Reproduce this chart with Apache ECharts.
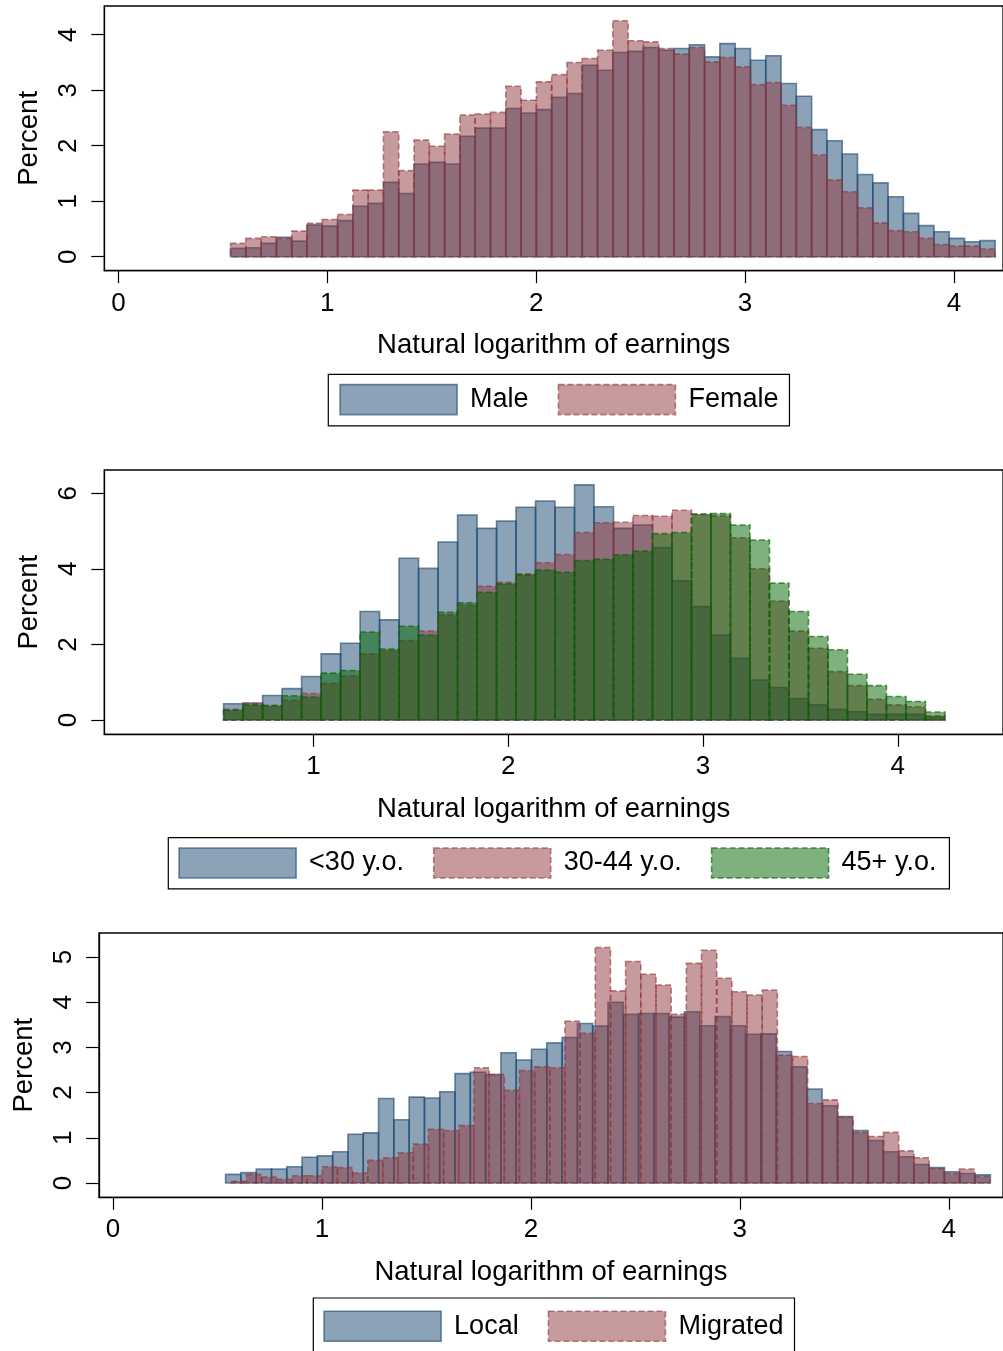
<!DOCTYPE html>
<html><head><meta charset="utf-8">
<script src="https://cdn.jsdelivr.net/npm/echarts@6/dist/echarts.min.js"></script>
<style>html,body{margin:0;padding:0;background:#fff}#c{width:1003px;height:1351px}</style>
</head><body><div id="c"></div><script>
const xTitle = 'Natural logarithm of earnings';
const yTitle = 'Percent';

// Panel 1: by gender (50 bins)
const p1Names = ['Male', 'Female'];
const p1BinStart = 0.537, p1BinWidth = 0.0732;
const male = [0.15,0.16,0.24,0.35,0.28,0.57,0.55,0.65,0.91,0.96,
  1.34,1.14,1.67,1.70,1.67,2.17,2.32,2.32,2.67,2.59,
  2.65,2.87,2.94,3.45,3.36,3.68,3.70,3.77,3.72,3.75,
  3.82,3.60,3.84,3.75,3.54,3.62,3.12,2.89,2.29,2.09,
  1.85,1.48,1.33,1.08,0.78,0.56,0.45,0.33,0.27,0.29];
const female = [0.24,0.33,0.36,0.33,0.46,0.60,0.67,0.76,1.20,1.20,
  2.25,1.55,2.10,1.99,2.21,2.55,2.57,2.60,3.07,2.82,
  3.15,3.28,3.50,3.57,3.72,4.25,3.89,3.87,3.75,3.65,
  3.77,3.51,3.59,3.42,3.10,3.14,2.73,2.33,1.83,1.38,
  1.17,0.88,0.61,0.47,0.45,0.33,0.22,0.19,0.19,0.14];
const p1XTicks = [0,1,2,3,4];
const p1YTicks = [0,1,2,3,4];

// Panel 2: by age group (bin width 0.1)
const p2Names = ['<30 y.o.', '30-44 y.o.', '45+ y.o.'];
const p2BinStart = 0.538, p2BinWidth = 0.1001;
const under30 = [0.43,0.45,0.65,0.83,1.15,1.75,2.03,2.87,2.65,4.28,
  4.01,4.71,5.42,5.07,5.26,5.63,5.79,5.63,6.22,5.64,
  5.07,5.16,4.56,3.68,3.00,2.25,1.63,1.06,0.86,0.57,
  0.40,0.28,0.22,0.15,0.15,0.15,0.08];
const age30to44 = [0.28,0.44,0.38,0.52,0.70,0.97,1.17,1.75,1.83,2.10,
  2.35,2.78,3.04,3.54,3.64,3.87,4.16,4.38,4.96,5.22,
  5.23,5.41,5.39,5.55,5.45,5.40,4.82,4.00,3.15,2.35,
  1.90,1.28,0.91,0.55,0.40,0.35,0.11];
const age45plus = [0.26,0.40,0.38,0.64,0.61,1.24,1.31,2.33,1.88,2.48,
  2.25,2.85,3.10,3.38,3.60,3.84,3.97,3.91,4.22,4.25,
  4.37,4.47,4.93,4.96,5.44,5.46,5.16,4.76,3.62,2.87,
  2.21,1.86,1.21,0.91,0.62,0.49,0.21];
const p2XTicks = [1,2,3,4];
const p2YTicks = [0,2,4,6];

// Panel 3: by migration status (50 bins each, own ranges)
const p3Names = ['Local', 'Migrated'];
const localBinStart = 0.539, localBinWidth = 0.0732;
const migBinStart = 0.566, migBinWidth = 0.0726;
const local = [0.19,0.23,0.31,0.31,0.36,0.57,0.60,0.69,1.08,1.11,
  1.87,1.40,1.90,1.88,2.02,2.42,2.45,2.40,2.88,2.72,
  2.96,3.10,3.22,3.53,3.47,4.00,3.73,3.75,3.75,3.67,
  3.79,3.48,3.68,3.48,3.29,3.30,2.91,2.57,2.08,1.71,
  1.47,1.16,0.94,0.69,0.58,0.41,0.34,0.25,0.21,0.18];
const migrated = [0.04,0.19,0.13,0.08,0.16,0.16,0.36,0.34,0.22,0.50,
  0.56,0.67,0.86,1.19,1.16,1.27,2.55,2.40,2.05,2.49,
  2.57,2.55,3.58,3.31,5.21,4.25,4.90,4.62,4.38,3.73,
  4.86,5.15,4.53,4.23,4.16,4.27,2.83,2.80,1.76,1.84,
  1.46,1.12,1.03,1.12,0.71,0.56,0.32,0.21,0.31,0.14];
const p3XTicks = [0,1,2,3,4];
const p3YTicks = [0,1,2,3,4,5];

const FONT = '"Liberation Sans", Arial, Helvetica, sans-serif';
const NAVY = {fill:'rgba(26,71,111,0.5)', stroke:'rgba(26,71,111,0.62)', dash:null};
const MAROON = {fill:'rgba(144,53,59,0.5)', stroke:'rgba(144,53,59,0.62)', dash:[6,3]};
const GREEN = {fill:'rgba(0,100,0,0.5)', stroke:'rgba(0,100,0,0.65)', dash:[6,3]};

function histSeries(name, gi, start, width, vals, st) {
  return {
    type:'custom', name, xAxisIndex:gi, yAxisIndex:gi, animation:false, silent:true,
    data: vals.map((v,i) => [start + i*width, start + (i+1)*width, v]),
    encode: {x:[0,1], y:2},
    itemStyle: {color: st.fill, borderColor: st.stroke, borderWidth:1.6, borderType: st.dash ? st.dash : 'solid'},
    renderItem: (params, api) => {
      const a = api.coord([api.value(0), api.value(2)]);
      const b = api.coord([api.value(1), 0]);
      return {type:'rect', shape:{x:a[0], y:a[1], width:b[0]-a[0], height:b[1]-a[1]},
        style:{fill: st.fill, stroke: st.stroke, lineWidth:1.6, lineDash: st.dash || null}};
    }
  };
}

function xAxisCfg(gi, min, max, ticks) {
  return {gridIndex:gi, type:'value', min, max,
    axisLine:{show:true, onZero:false, lineStyle:{color:'#000', width:1.3}},
    axisTick:{show:true, length:12.5, customValues:ticks, lineStyle:{color:'#000', width:1.2}},
    axisLabel:{customValues:ticks, fontSize:26, color:'#000', margin:20, fontFamily:FONT},
    splitLine:{show:false},
    name:xTitle, nameLocation:'middle', nameGap:61, nameMoveOverlap:false,
    nameTextStyle:{fontSize:27.5, color:'#000', fontFamily:FONT}};
}
function yAxisCfg(gi, min, max, ticks) {
  return {gridIndex:gi, type:'value', min, max,
    axisLine:{show:true, onZero:false, lineStyle:{color:'#000', width:1.3}},
    axisTick:{show:true, length:13, customValues:ticks, lineStyle:{color:'#000', width:1.2}},
    axisLabel:{customValues:ticks, rotate:90, fontSize:26, color:'#000', margin:22, fontFamily:FONT},
    splitLine:{show:false},
    name:yTitle, nameLocation:'middle', nameGap:61, nameMoveOverlap:false,
    nameTextStyle:{fontSize:27.5, color:'#000', fontFamily:FONT}};
}
function legendCfg(names, styles, left, top, padding) {
  return {left, top, padding, orient:'horizontal', itemWidth:117, itemHeight:30, itemGap:29,
    borderColor:'#000', borderWidth:1.2, backgroundColor:'#fff', selectedMode:false,
    textStyle:{fontSize:27, color:'#000', fontFamily:FONT, padding:[0,0,0,8]},
    data: names.map((n,j) => ({name:n, icon:'rect',
      itemStyle:{color:styles[j].fill, borderColor:styles[j].stroke, borderWidth:1.6,
        borderType: styles[j].dash ? styles[j].dash : 'solid'}}))};
}

const chart = echarts.init(document.getElementById('c'), null, {renderer:'canvas'});
chart.setOption({
  backgroundColor:'#fff',
  animation:false,
  grid:[
    {left:104.3, top:6, right:-3, height:264.7, show:true, borderColor:'#000', borderWidth:1.3},
    {left:104.3, top:470, right:-3, height:264.3, show:true, borderColor:'#000', borderWidth:1.3},
    {left:99, top:933, right:-3, height:264.3, show:true, borderColor:'#000', borderWidth:1.3}
  ],
  xAxis:[
    xAxisCfg(0, -0.0673, 4.2347, p1XTicks),
    xAxisCfg(1, -0.0747, 4.5399, p2XTicks),
    xAxisCfg(2, -0.0668, 4.2595, p3XTicks)
  ],
  yAxis:[
    yAxisCfg(0, -0.2523, 4.5171, p1YTicks),
    yAxisCfg(1, -0.3783, 6.6138, p2YTicks),
    yAxisCfg(2, -0.3164, 5.531, p3YTicks)
  ],
  legend:[
    legendCfg(p1Names, [NAVY, MAROON], 328.3, 374.3, [9.5,11,10.5,11]),
    legendCfg(p2Names, [NAVY, MAROON, GREEN], 168.3, 837.7, [9.5,13,10,10]),
    legendCfg(p3Names, [NAVY, MAROON], 313.3, 1298, [12.5,11,10,10])
  ],
  series:[
    histSeries(p1Names[0], 0, p1BinStart, p1BinWidth, male, NAVY),
    histSeries(p1Names[1], 0, p1BinStart, p1BinWidth, female, MAROON),
    histSeries(p2Names[0], 1, p2BinStart, p2BinWidth, under30, NAVY),
    histSeries(p2Names[1], 1, p2BinStart, p2BinWidth, age30to44, MAROON),
    histSeries(p2Names[2], 1, p2BinStart, p2BinWidth, age45plus, GREEN),
    histSeries(p3Names[0], 2, localBinStart, localBinWidth, local, NAVY),
    histSeries(p3Names[1], 2, migBinStart, migBinWidth, migrated, MAROON)
  ]
});
</script></body></html>
